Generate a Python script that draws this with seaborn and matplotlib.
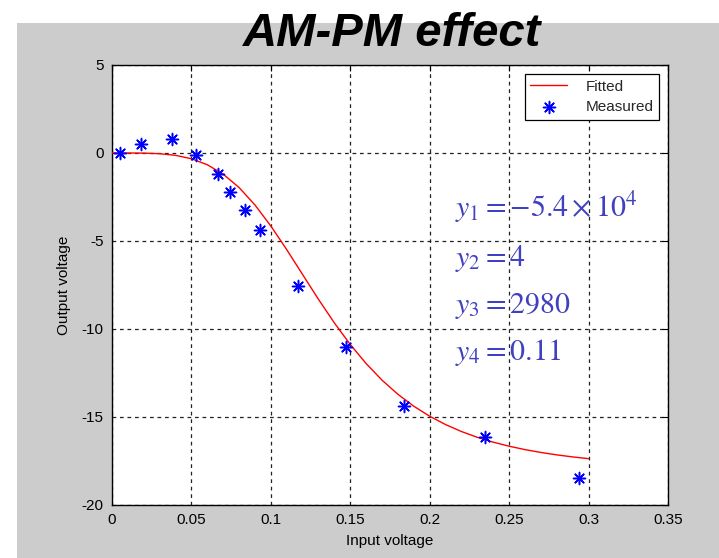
import matplotlib
matplotlib.use("Agg")
import matplotlib.pyplot as plt
import seaborn as sns
import pandas as pd
from matplotlib.patches import Rectangle

# ---- data ----
measured_x = [0.005, 0.018, 0.038, 0.053, 0.0666, 0.0744, 0.0839, 0.0933,
              0.117, 0.147, 0.184, 0.2346, 0.294]
measured_y = [0.0, 0.5, 0.8, -0.1, -1.18, -2.21, -3.24, -4.39,
              -7.55, -11.0, -14.35, -16.15, -18.45]

fitted_x = [0.00, 0.01, 0.02, 0.03, 0.04, 0.05, 0.06, 0.07, 0.08, 0.09, 0.10,
            0.11, 0.12, 0.13, 0.14, 0.15, 0.16, 0.17, 0.18, 0.19, 0.20,
            0.21, 0.22, 0.23, 0.24, 0.25, 0.26, 0.27, 0.28, 0.29, 0.30]
fitted_y = [0.0, 0.0006, -0.0064, -0.0403, -0.1328, -0.3258, -0.6672, -1.2023,
            -1.9624, -2.9536, -4.1493, -5.4924, -6.9076, -8.3174, -9.6567,
            -10.8809, -11.9667, -12.9083, -13.7116, -14.3893, -14.9572,
            -15.4311, -15.8261, -16.1552, -16.4300, -16.6598, -16.8526,
            -17.0148, -17.1519, -17.2681, -17.3670]

x_ticks = [0, 0.05, 0.1, 0.15, 0.2, 0.25, 0.3, 0.35]
x_tick_labels = ["0", "0.05", "0.1", "0.15", "0.2", "0.25", "0.3", "0.35"]
y_ticks = [-20, -15, -10, -5, 0, 5]
y_tick_labels = ["-20", "-15", "-10", "-5", "0", "5"]

param_labels = [r"$y_1 = -5.4\times10^4$", r"$y_2 = 4$", r"$y_3 = 2980$", r"$y_4 = 0.11$"]
param_y = [-3.62, -6.43, -9.10, -11.75]
param_x = 0.2157

title = "AM-PM effect"
x_label = "Input voltage"
y_label = "Output voltage"

# ---- style ----
sns.set_theme(style="white")
plt.rcParams["font.family"] = ["Liberation Sans", "DejaVu Sans"]
plt.rcParams["axes.unicode_minus"] = False
plt.rcParams["mathtext.fontset"] = "stix"

fig = plt.figure(figsize=(7.19, 5.58), dpi=100, facecolor="white")
W, H = 719, 558
fig.patches.append(Rectangle((17 / W, 0), 1 - 17 / W, 1 - 23 / H,
                             transform=fig.transFigure, facecolor="#cccccc",
                             edgecolor="none", zorder=-10))

ax = fig.add_axes([112 / W, 1 - 505 / H, (668 - 112) / W, (505 - 65) / H])
ax.set_facecolor("white")

fit_df = pd.DataFrame({"x": fitted_x, "y": fitted_y})
meas_df = pd.DataFrame({"x": measured_x, "y": measured_y})

sns.lineplot(data=fit_df, x="x", y="y", ax=ax, color="#ff0000", linewidth=1.0,
             label="Fitted", zorder=3)
sns.scatterplot(data=meas_df, x="x", y="y", ax=ax, color="#0000ff",
                marker=(8, 2, 0), s=75, linewidth=1.1, edgecolor="#0000ff",
                label="Measured", zorder=4)

ax.set_xlim(0, 0.35)
ax.set_ylim(-20, 5)
ax.set_xticks(x_ticks)
ax.set_xticklabels(x_tick_labels)
ax.set_yticks(y_ticks)
ax.set_yticklabels(y_tick_labels)
ax.tick_params(axis="both", direction="in", length=4, width=0.8, labelsize=11,
               colors="black", top=True, right=True, pad=6)
for sp in ax.spines.values():
    sp.set_color("black")
    sp.set_linewidth(1.0)

ax.grid(True, color="#222222", linestyle=(0, (3, 3)), linewidth=0.9)
ax.set_axisbelow(True)

ax.set_xlabel(x_label, fontsize=11, color="black", labelpad=5)
ax.set_ylabel(y_label, fontsize=11, color="black", labelpad=8)

for lab, yy in zip(param_labels, param_y):
    ax.text(param_x, yy, lab, fontsize=21.5, color="#4040c0", va="baseline",
            ha="left", zorder=5)

leg = ax.legend(loc="upper right", frameon=True, fancybox=False, fontsize=11,
                borderaxespad=0.6, handlelength=2.4, borderpad=0.35,
                labelspacing=0.45, handletextpad=1.2)
leg.get_frame().set_edgecolor("black")
leg.get_frame().set_linewidth(0.9)
leg.get_frame().set_facecolor("white")
leg.get_frame().set_alpha(1)

fig.text(392 / W, 1 - 46.5 / H, title, fontsize=34, fontweight="bold",
         fontstyle="italic", ha="center", va="baseline", color="black")

fig.savefig("out.png", dpi=100, facecolor=fig.get_facecolor())
